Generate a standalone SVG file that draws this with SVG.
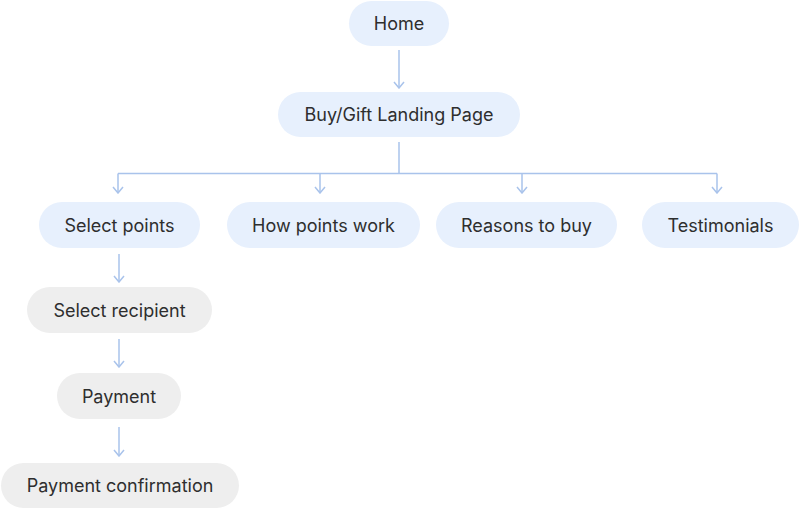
<svg xmlns="http://www.w3.org/2000/svg" width="800" height="509" viewBox="0 0 800 509">
<style>
.blue{fill:#E7F0FD}
.grey{fill:#EEEEEE}
text{font-family:Inter,"Noto Sans","Liberation Sans",sans-serif;font-size:18px;fill:#2E2E2E;text-anchor:middle}
.c{fill:none;stroke:#A9C3EB;stroke-width:1.5}
</style>
<defs>
<marker id="ah" viewBox="0 0 8 12" refX="7" refY="6" markerWidth="8" markerHeight="12" markerUnits="userSpaceOnUse" orient="auto">
<path d="M1,1 L7,6 L1,11" fill="none" stroke="#A9C3EB" stroke-width="1.5"/>
</marker>
</defs>
<rect width="800" height="509" fill="#FFFFFF"/>
<g id="connectors">
<path class="c" d="M399,50 V88" marker-end="url(#ah)"/>
<path class="c" d="M399,142 V173.5"/>
<path class="c" d="M118,173.5 H717"/>
<path class="c" d="M118,173.5 V193" marker-end="url(#ah)"/>
<path class="c" d="M320,173.5 V193" marker-end="url(#ah)"/>
<path class="c" d="M522,173.5 V193" marker-end="url(#ah)"/>
<path class="c" d="M717,173.5 V193" marker-end="url(#ah)"/>
<path class="c" d="M119,254 V282" marker-end="url(#ah)"/>
<path class="c" d="M119,339 V367" marker-end="url(#ah)"/>
<path class="c" d="M119,427 V456" marker-end="url(#ah)"/>
</g>
<g id="home"><rect class="blue" x="349" y="1" width="100" height="45" rx="22.5"/><text x="399" y="30">Home</text></g>
<g id="landing"><rect class="blue" x="278" y="92" width="242" height="45" rx="22.5"/><text x="399" y="121">Buy/Gift Landing Page</text></g>
<g id="select-points"><rect class="blue" x="39" y="202" width="161" height="46" rx="23"/><text x="119.5" y="231.5">Select points</text></g>
<g id="how-points-work"><rect class="blue" x="227" y="202" width="193" height="46" rx="23"/><text x="323.5" y="231.5">How points work</text></g>
<g id="reasons-to-buy"><rect class="blue" x="436" y="202" width="181" height="46" rx="23"/><text x="526.5" y="231.5">Reasons to buy</text></g>
<g id="testimonials"><rect class="blue" x="642" y="202" width="157" height="46" rx="23"/><text x="720.5" y="231.5">Testimonials</text></g>
<g id="select-recipient"><rect class="grey" x="27" y="287" width="185" height="46" rx="23"/><text x="119.5" y="316.5">Select recipient</text></g>
<g id="payment"><rect class="grey" x="57" y="373" width="124" height="46" rx="23"/><text x="119" y="402.5">Payment</text></g>
<g id="payment-confirmation"><rect class="grey" x="1" y="463" width="238" height="45" rx="22.5"/><text x="120" y="492">Payment confirmation</text></g>
</svg>
